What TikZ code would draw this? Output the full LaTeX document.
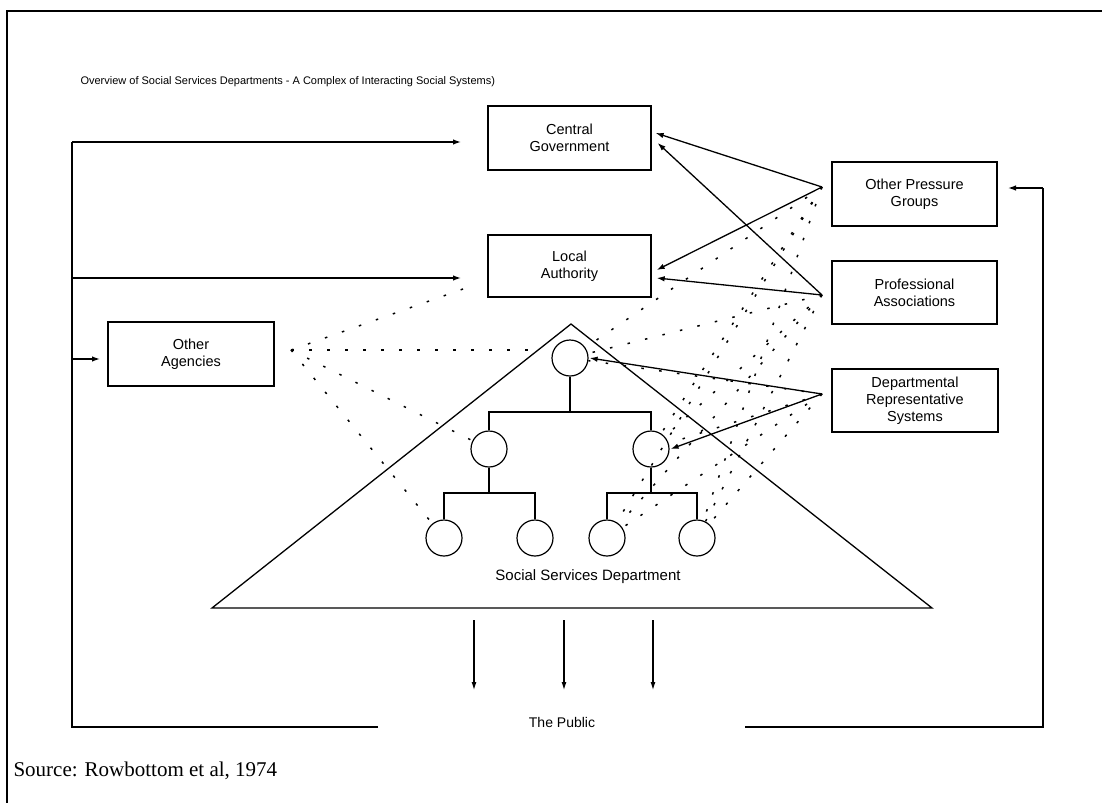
\documentclass[tikz,border=0pt]{standalone}
\usepackage{fontspec}
\setmainfont{Liberation Sans}
\newfontfamily\sourcefont{Liberation Serif}
\usetikzlibrary{arrows.meta}

\begin{document}
\begin{tikzpicture}[x=1pt,y=-1pt,
  box/.style={draw, line width=1.3pt, inner sep=0pt, align=center,
    font=\fontsize{14.5}{17}\selectfont},
  unit/.style={draw, circle, line width=1.2pt, minimum size=36pt, inner sep=0pt},
  link/.style={line width=1.3pt, -{Latex[length=8pt,width=5.5pt]}},
  feed/.style={line width=1.3pt},
  dots/.style={line width=1.5pt, dash pattern=on 2.5pt off 15.5pt},
  tree/.style={line width=1.2pt}]

\useasboundingbox (0,0) rectangle (1102,803);

% page frame
\draw[line width=1.3pt] (1102,11) -- (7,11) -- (7,803);

% title
\node[anchor=west, font=\fontsize{11}{13}\selectfont] (title) at (77,82)
  {Overview of Social Services Departments - A Complex of Interacting Social Systems)};

% outside systems
\node[box, minimum width=163pt, minimum height=64pt] (cg)  at (569.5,138) {Central\\Government};
\node[box, minimum width=163pt, minimum height=62pt] (la)  at (569.5,266) {Local\\Authority};
\node[box, minimum width=166pt, minimum height=64pt] (oa)  at (191,354)   {Other\\Agencies};
\node[box, minimum width=165pt, minimum height=64pt] (opg) at (914.5,194) {Other Pressure\\Groups};
\node[box, minimum width=165pt, minimum height=63pt] (pa)  at (914.5,292.5) {Professional\\Associations};
\node[box, minimum width=166pt, minimum height=63pt] (drs) at (915,400.5) {Departmental\\Representative\\Systems};

% points where the lines of influence meet
\coordinate (opgP) at (822,187);
\coordinate (paP)  at (822,295);
\coordinate (drsP) at (822,394);
\coordinate (oaP)  at (291,350);

% the department as a pyramid
\coordinate (apex) at (571,324);
\coordinate (baseL) at (212,608);
\coordinate (baseR) at (932,608);
\draw[line width=1.3pt] (baseL) -- (apex) -- (baseR) -- cycle;
\node[font=\fontsize{15}{17}\selectfont] (ssd) at (588,577) {Social Services Department};

% hierarchy inside the department
\node[unit] (top) at (570,358) {};
\node[unit] (m1)  at (489,449) {};
\node[unit] (m2)  at (651,449) {};
\node[unit] (b1)  at (444,538) {};
\node[unit] (b2)  at (535,538) {};
\node[unit] (b3)  at (607,538) {};
\node[unit] (b4)  at (697,538) {};
\draw[tree] (top.south) -- (570,412);
\draw[tree] (m1.north) -- (489,412) -- (651,412) -- (m2.north);
\draw[tree] (m1.south) -- (489,493);
\draw[tree] (b1.north) -- (444,493) -- (535,493) -- (b2.north);
\draw[tree] (m2.south) -- (651,493);
\draw[tree] (b3.north) -- (607,493) -- (697,493) -- (b4.north);

% informal links (dotted)
\coordinate (oaToLa)  at (463,289);
\coordinate (oaToTop) at (530,350);
\draw[dots] (oaP) -- (oaToLa);
\draw[dots] (oaP) -- (oaToTop);
\draw[dots] (oaP) -- (m1);
\draw[dots] (oaP) -- (b1);
\foreach \src in {opgP,paP,drsP}{
  \foreach \dst in {top,m2,b3,b4}{
    \draw[dots] (\src) -- (\dst);
  }
}

% formal influence (solid arrows)
\draw[link] (opgP) -- ([xshift=4pt,yshift=5pt]cg.east);
\draw[link] (paP)  -- ([xshift=6pt,yshift=-5pt]cg.east);
\draw[link] (opgP) -- ([xshift=5pt,yshift=-4pt]la.east);
\draw[link] (paP)  -- ([xshift=5pt,yshift=-12pt]la.east);
\draw[link] (drsP) -- ([xshift=1pt]top.east);
\draw[link] (drsP) -- ([xshift=1pt]m2.east);

% services to the public
\node[font=\fontsize{14}{16}\selectfont] (public) at (562,722) {The Public};
\foreach \x in {474,564,653}{
  \draw[line width=1.1pt, -{Latex[length=8pt,width=5pt]}] (\x,620) -- (\x,690);
}

% feedback from the public
\coordinate (cgIn) at (461,142);
\coordinate (laIn) at (461,278);
\coordinate (oaIn) at (100,359);
\coordinate (loopL) at (72,727);
\draw[feed] (378,727) -- (loopL) -- (72,142);
\draw[link] (72,142) -- (cgIn);
\draw[link] (72,278) -- (laIn);
\draw[link] (72,359) -- (oaIn);
\coordinate (opgIn) at (1008,188);
\draw[feed] (745,727) -- (1043,727) -- (1043,188);
\draw[link] (1043,188) -- (opgIn);

% source
\node[anchor=west, font=\sourcefont\fontsize{21}{24}\selectfont] (src) at (10,771)
  {Source: Rowbottom et al, 1974};
\end{tikzpicture}
\end{document}
